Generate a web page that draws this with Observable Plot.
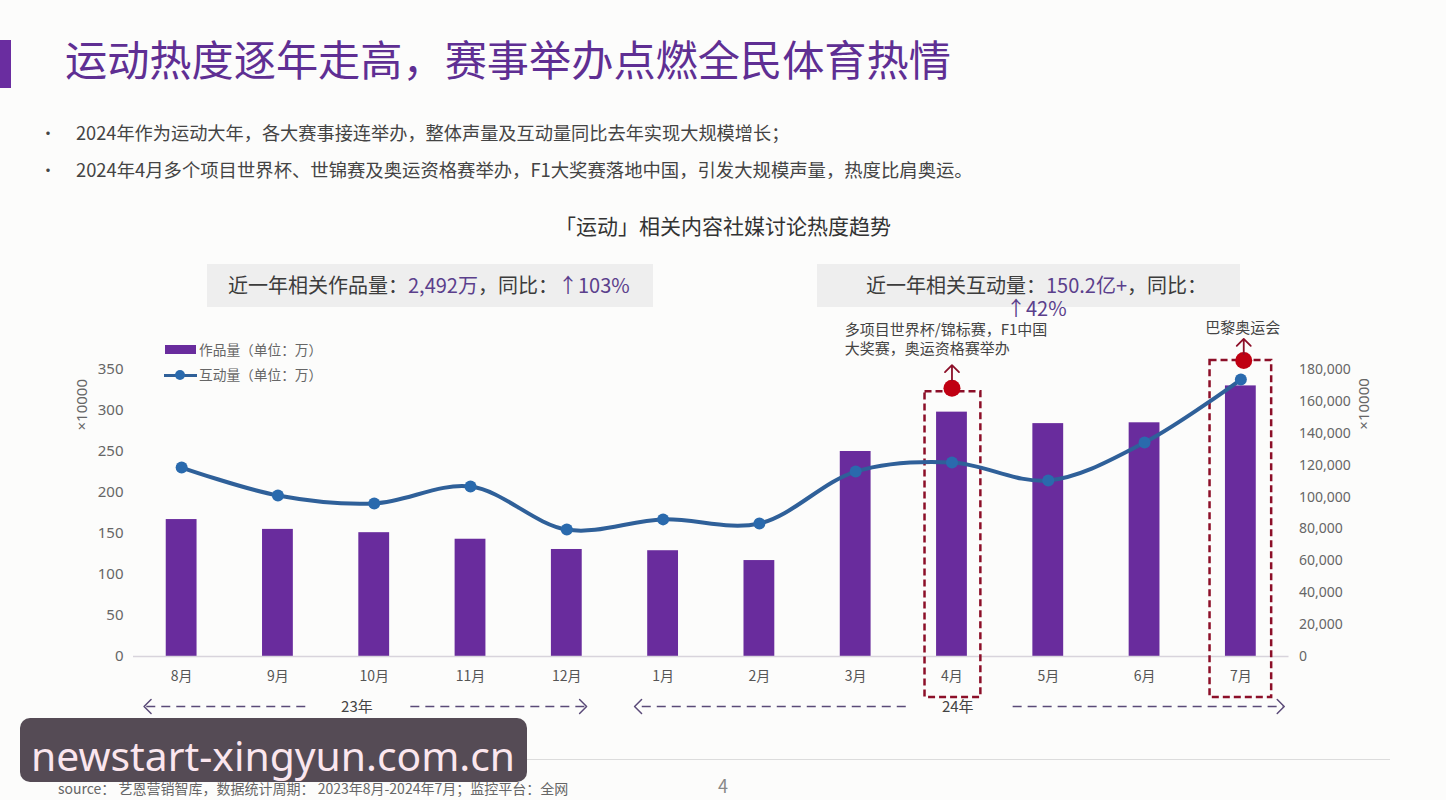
<!DOCTYPE html>
<html lang="zh">
<head>
<meta charset="utf-8">
<script src="https://cdn.jsdelivr.net/npm/d3@7"></script>
<script src="https://cdn.jsdelivr.net/npm/@observablehq/plot@0.6"></script>
<style>
html,body{margin:0;padding:0;background:#fcfcfb;}
body{width:1446px;height:800px;position:relative;overflow:hidden;font-family:"Noto Sans CJK SC","Noto Sans",sans-serif;color:#444;}
.a{position:absolute;white-space:nowrap;}
#chart{position:absolute;left:0;top:310px;}
.p{color:#5b3f8c;}
</style>
</head>
<body>
<div class="a" style="left:0;top:40px;width:11px;height:48px;background:#6a2da0"></div>
<div class="a" id="title" style="left:65px;top:28px;font-size:42.2px;line-height:60px;color:#5f2f93;font-weight:400">运动热度逐年走高，赛事举办点燃全民体育热情</div>
<div class="a" style="left:40px;top:120px;font-size:16px;line-height:24px">•</div>
<div class="a" style="left:76px;top:120px;font-size:18.2px;line-height:24px;color:#444">2024年作为运动大年，各大赛事接连举办，整体声量及互动量同比去年实现大规模增长；</div>
<div class="a" style="left:40px;top:157px;font-size:16px;line-height:24px">•</div>
<div class="a" style="left:76px;top:157px;font-size:18.35px;line-height:24px;color:#444">2024年4月多个项目世界杯、世锦赛及奥运资格赛举办，F1大奖赛落地中国，引发大规模声量，热度比肩奥运。</div>
<div class="a" style="left:555px;top:210px;font-size:21px;line-height:30px;color:#333">「运动」相关内容社媒讨论热度趋势</div>
<div class="a" style="left:207px;top:264px;width:446px;height:43px;background:#eeeeee"></div>
<div class="a" style="left:228px;top:270px;font-size:20px;line-height:29px;color:#3c3c3c">近一年相关作品量：<span class="p">2,492万</span>，同比：<span class="p">↑103%</span></div>
<div class="a" style="left:817px;top:264px;width:423px;height:43px;background:#eeeeee"></div>
<div class="a" style="left:866px;top:270px;font-size:20px;line-height:29px;color:#3c3c3c">近一年相关互动量：<span class="p">150.2亿+</span>，同比：</div>
<div class="a p" style="left:1006px;top:293px;font-size:20px;line-height:29px">↑42%</div>

<div id="chart"></div>

<div class="a" style="left:165px;top:345px;width:31px;height:9px;background:#692c9d"></div>
<div class="a" style="left:199px;top:339px;font-size:13.7px;line-height:20px;color:#666">作品量（单位：万）</div>
<div class="a" style="left:164px;top:373.500px;width:33px;height:3px;background:#2f6099"></div>
<div class="a" style="left:175px;top:370px;width:10px;height:10px;border-radius:50%;background:#2a6aad"></div>
<div class="a" style="left:199px;top:364px;font-size:13.7px;line-height:20px;color:#666">互动量（单位：万）</div>

<div class="a" style="left:20px;top:759px;width:1370px;height:1px;background:#dcdcdc"></div>
<div class="a" style="left:58px;top:778px;font-size:14px;line-height:20px;color:#666">source： 艺恩营销智库，数据统计周期： 2023年8月-2024年7月；监控平台：全网</div>
<div class="a" style="left:718px;top:773px;font-size:18px;line-height:25px;color:#888">4</div>
<div class="a" style="left:20px;top:718px;width:507px;height:64px;border-radius:10px;background:#554b55"></div>
<div class="a" style="left:31px;top:725px;font-size:40.8px;line-height:60px;color:#fbe6ee;font-family:'Noto Sans',sans-serif">newstart-xingyun.com.cn</div>

<script>
const months = ["8月","9月","10月","11月","12月","1月","2月","3月","4月","5月","6月","7月"];
const works = [167,155,151,143,130.5,129,117,250,298,284,285,330];
const interactions = [118500,101000,96000,106600,79600,86000,83400,116000,121700,110400,134200,173700];
const leftTicks = [0,50,100,150,200,250,300,350];
const rightTicks = [0,20000,40000,60000,80000,100000,120000,140000,160000,180000];

const ratio = 350 / 180000;
const rows = months.map((m, i) => ({i, m, works: works[i], line: interactions[i] * ratio}));
const halfBar = 0.16;
const purple = "#692c9d", blue = "#2f6099", dotBlue = "#2a6aad", red = "#c00012", boxRed = "#8c0f28", arrowInk = "#5a4a78";

const yearSpans = [
  {from: 1.284, to: -0.38},
  {from: 2.375, to: 4.195},
  {from: 7.52,  to: 4.714},
  {from: 8.63,  to: 11.44}
];
const arrowY = -61;
const chevron = size => ({draw(c, l) {
  c.moveTo(-size, -l + size);
  c.lineTo(0, -l);
  c.lineTo(size, -l + size);
}});
const upArrow = (len, size) => ({draw(c) {
  c.moveTo(0, 0);
  c.lineTo(0, -len);
  c.moveTo(-size, -len + size);
  c.lineTo(0, -len);
  c.lineTo(size, -len + size);
}});

const chart = Plot.plot({
  width: 1446, height: 410,
  marginTop: 59, marginBottom: 64, marginLeft: 133, marginRight: 157.5,
  style: {background: "transparent", fontFamily: "'Noto Sans','Noto Sans CJK SC',sans-serif", overflow: "visible"},
  x: {domain: [-0.5, 11.5], axis: null},
  y: {domain: [0, 350], axis: null},
  marks: [
    Plot.rect(rows, {x1: d => d.i - halfBar, x2: d => d.i + halfBar, y1: 0, y2: "works", fill: purple}),
    Plot.ruleY([0], {stroke: "#d8d4dc", strokeWidth: 1.5}),
    Plot.axisX(months.map((_, i) => i), {tickFormat: i => months[i], tickSize: 0, tickPadding: 15, fontSize: 14, color: "#555", label: null, fontFamily: "'Noto Sans CJK SC'"}),
    Plot.axisY(leftTicks, {anchor: "left", tickSize: 0, tickPadding: 10, fontSize: 15, color: "#666", label: null}),
    Plot.axisY(rightTicks.map(v => v * ratio), {anchor: "right", tickSize: 0, tickPadding: 10, fontSize: 14, color: "#666", label: null, tickFormat: v => d3.format(",")(Math.round(v / ratio))}),
    Plot.text(["×10000"], {x: -1.034, y: 307, rotate: -90, fontSize: 15, fill: "#666"}),
    Plot.text(["×10000"], {x: 12.28, y: 308, rotate: -90, fontSize: 15, fill: "#666"}),
    Plot.rect([{x1: 7.72, x2: 8.3, y1: -50, y2: 323}, {x1: 10.68, x2: 11.32, y1: -50, y2: 361}], {x1: "x1", x2: "x2", y1: "y1", y2: "y2", fill: "none", stroke: boxRed, strokeWidth: 2.5, strokeDasharray: "7 4"}),
    Plot.line(rows, {x: "i", y: "line", stroke: blue, strokeWidth: 4, curve: "catmull-rom"}),
    Plot.dot(rows, {x: "i", y: "line", r: 6, fill: dotBlue}),
    Plot.dot([{x: 8, y: 327}, {x: 11.03, y: 361}], {x: "x", y: "y", r: 8.5, fill: red}),
    Plot.vector([{x: 8, y: 337}, {x: 11.03, y: 369}], {x: "x", y: "y", anchor: "start", length: 1, shape: upArrow(15, 7), stroke: boxRed, strokeWidth: 1.8, fill: "none"}),
    Plot.text(["多项目世界杯/锦标赛，F1中国\n大奖赛，奥运资格赛举办"], {x: 6.887, y: 388, textAnchor: "start", fontSize: 15, lineHeight: 1.27, fill: "#444", fontFamily: "'Noto Sans CJK SC'"}),
    Plot.text(["巴黎奥运会"], {x: 11.02, y: 400, fontSize: 15, fill: "#444", fontFamily: "'Noto Sans CJK SC'"}),
    Plot.link(yearSpans, {x1: "from", x2: "to", y1: arrowY, y2: arrowY, stroke: arrowInk, strokeWidth: 1.5, strokeDasharray: "9 6"}),
    Plot.vector(yearSpans, {x: "to", y: arrowY, anchor: "start", length: 1, rotate: d => d.to > d.from ? 90 : -90, shape: chevron(7), stroke: arrowInk, strokeWidth: 1.5, fill: "none"}),
    Plot.text(["23年"], {x: 1.82, y: arrowY - 1, fontSize: 15, fill: "#444", fontFamily: "'Noto Sans CJK SC'"}),
    Plot.text(["24年"], {x: 8.06, y: arrowY - 1, fontSize: 15, fill: "#444", fontFamily: "'Noto Sans CJK SC'"})
  ]
});
document.getElementById("chart").appendChild(chart);
</script>
</body>
</html>
